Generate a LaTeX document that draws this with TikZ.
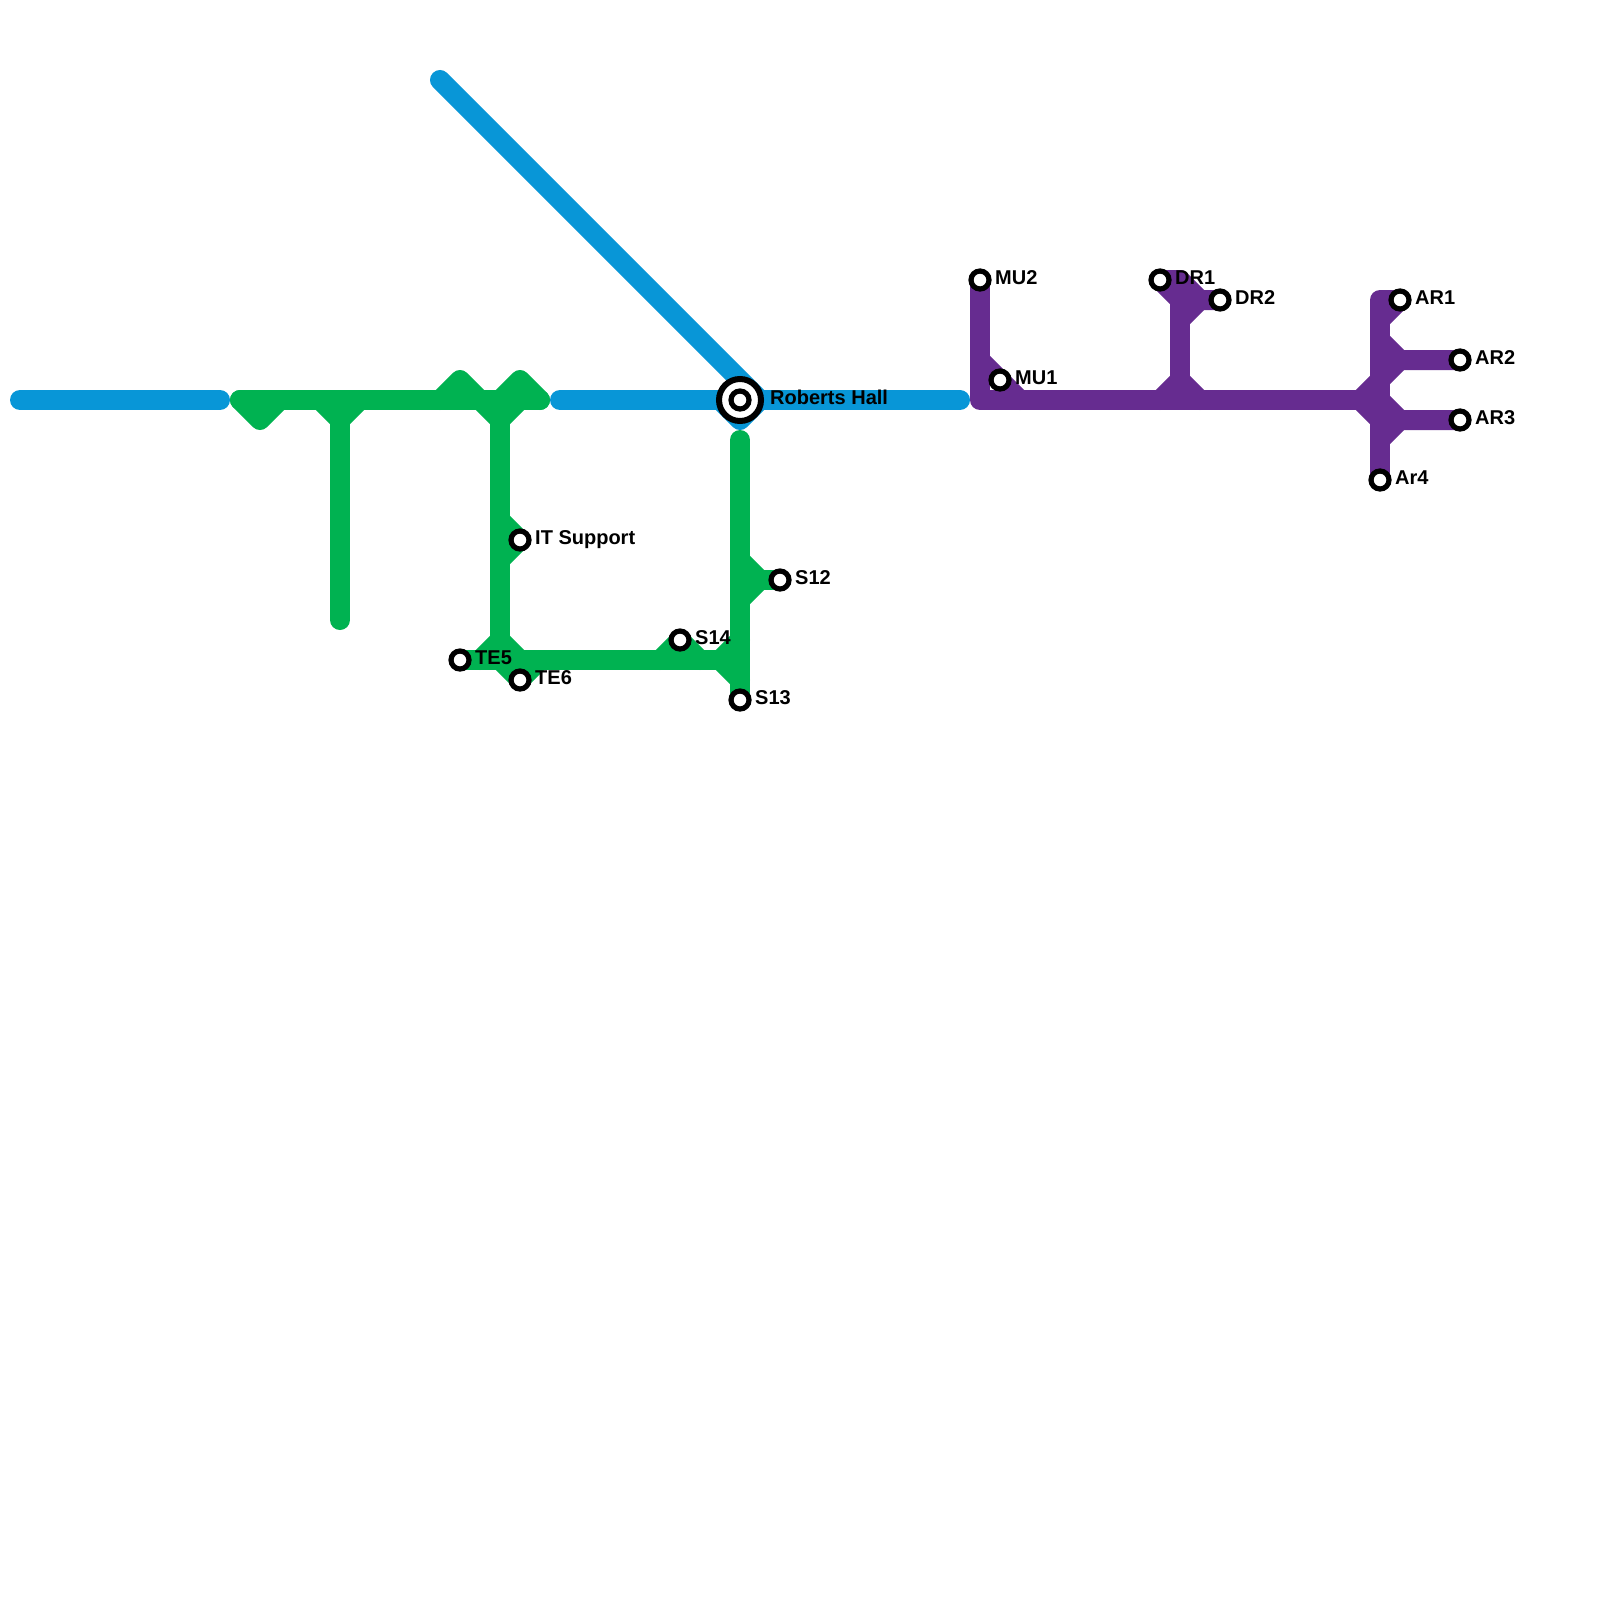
\documentclass[tikz,border=0pt]{standalone}
\usepackage{fontspec}
\setmainfont{Liberation Sans}
\usepackage{xcolor}
\definecolor{lineblue}{HTML}{0896D7}
\definecolor{linegreen}{HTML}{00B251}
\definecolor{linepurple}{HTML}{662C90}
\usetikzlibrary{positioning,backgrounds}

\begin{document}
\begin{tikzpicture}[
  x=20pt, y=-20pt,
  route/.style={line width=20pt, line cap=round, line join=round},
  blueroute/.style={route, draw=lineblue},
  greenroute/.style={route, draw=linegreen},
  purpleroute/.style={route, draw=linepurple},
  stn/.style={draw=black, fill=white, circle, line width=5.2pt, minimum size=18pt, inner sep=0pt, outer sep=0pt},
  bighub/.style={draw=black, fill=white, circle, line width=6pt, minimum size=42pt, inner sep=0pt, outer sep=0pt},
  stnlbl/.style={anchor=base west, inner sep=0pt, font=\bfseries\fontsize{20}{24}\selectfont, xshift=15pt, yshift=-4.7pt}
]
\useasboundingbox (0,0) rectangle (80,80);

% stations
\node[bighub] (hallring) at (37,20) {};
\node[stn] (hall) at (37,20) {};
\node[stn] (itsup) at (26,27) {};
\node[stn] (te5) at (23,33) {};
\node[stn] (te6) at (26,34) {};
\node[stn] (s14) at (34,32) {};
\node[stn] (s13) at (37,35) {};
\node[stn] (s12) at (39,29) {};
\node[stn] (mu2) at (49,14) {};
\node[stn] (mu1) at (50,19) {};
\node[stn] (dr1) at (58,14) {};
\node[stn] (dr2) at (61,15) {};
\node[stn] (ar1) at (70,15) {};
\node[stn] (ar2) at (73,18) {};
\node[stn] (ar3) at (73,21) {};
\node[stn] (ar4) at (69,24) {};

% labels
\node[stnlbl, xshift=15pt, yshift=0.7pt] (halltxt) at (hall.center) {Roberts Hall};
\node[stnlbl] (ittxt) at (itsup.center) {IT Support};
\node[stnlbl] (te5txt) at (te5.center) {TE5};
\node[stnlbl] (te6txt) at (te6.center) {TE6};
\node[stnlbl] (s14txt) at (s14.center) {S14};
\node[stnlbl] (s13txt) at (s13.center) {S13};
\node[stnlbl] (s12txt) at (s12.center) {S12};
\node[stnlbl] (mu2txt) at (mu2.center) {MU2};
\node[stnlbl] (mu1txt) at (mu1.center) {MU1};
\node[stnlbl] (dr1txt) at (dr1.center) {DR1};
\node[stnlbl] (dr2txt) at (dr2.center) {DR2};
\node[stnlbl] (ar1txt) at (ar1.center) {AR1};
\node[stnlbl] (ar2txt) at (ar2.center) {AR2};
\node[stnlbl] (ar3txt) at (ar3.center) {AR3};
\node[stnlbl] (ar4txt) at (ar4.center) {Ar4};

% blue line points
\coordinate (bw1) at (1,20);
\coordinate (bw2) at (11,20);
\coordinate (bm1) at (28,20);
\coordinate (bm2) at (48,20);
\coordinate (btop) at (22,4);
\coordinate (hallu) at (37,19);
\coordinate (hallr) at (38,20);
\coordinate (halld) at (37,21);
\coordinate (halll) at (36,20);

% green line points
\coordinate (gw) at (12,20);
\coordinate (ge) at (27,20);
\coordinate (g1a) at (13,21);
\coordinate (g1b) at (14,20);
\coordinate (g2a) at (16,20);
\coordinate (g2b) at (17,21);
\coordinate (g2c) at (18,20);
\coordinate (g2d) at (17,31);
\coordinate (g3a) at (22,20);
\coordinate (g3b) at (23,19);
\coordinate (g3c) at (24,20);
\coordinate (g4a) at (25,20);
\coordinate (g4b) at (26,19);
\coordinate (g5a) at (25,21);
\coordinate (g5b) at (26,20);
\coordinate (g5c) at (25,32);
\coordinate (it1) at (25,26);
\coordinate (it2) at (25,28);
\coordinate (gb1) at (24,33);
\coordinate (gb2) at (26,33);
\coordinate (gb3) at (25,33);
\coordinate (gb4) at (27,33);
\coordinate (gb5) at (33,33);
\coordinate (gb6) at (35,33);
\coordinate (gb7) at (36,33);
\coordinate (gr1) at (37,32);
\coordinate (gr2) at (37,34);
\coordinate (grt) at (37,22);
\coordinate (gr3) at (37,28);
\coordinate (gr4) at (38,29);
\coordinate (gr5) at (37,30);

% purple line points
\coordinate (pb) at (49,20);
\coordinate (pe) at (69,20);
\coordinate (pm1) at (49,18);
\coordinate (pm2) at (51,20);
\coordinate (pd1) at (59,14);
\coordinate (pd2) at (59,15);
\coordinate (pd3) at (60,15);
\coordinate (pd4) at (59,16);
\coordinate (pd5) at (58,20);
\coordinate (pd6) at (59,19);
\coordinate (pd7) at (60,20);
\coordinate (pa1) at (69,15);
\coordinate (pa2) at (69,16);
\coordinate (pa3) at (69,17);
\coordinate (pa4) at (70,18);
\coordinate (pa5) at (69,19);
\coordinate (pa6) at (70,21);
\coordinate (pa7) at (69,22);
\coordinate (pa8) at (68,20);
\coordinate (pa9) at (69,21);

\begin{scope}[on background layer]
\draw[blueroute] (bw1)--(bw2);
\draw[blueroute] (bm1)--(bm2);
\draw[blueroute] (btop)--(hallu)--(hallr)--(halld)--(halll);

\draw[greenroute] (gw)--(ge);
\draw[greenroute] (gw)--(g1a)--(g1b);
\draw[greenroute] (g2a)--(g2b)--(g2c);
\draw[greenroute] (g2b)--(g2d);
\draw[greenroute] (g3a)--(g3b)--(g3c);
\draw[greenroute] (g4a)--(g4b)--(ge);
\draw[greenroute] (g3c)--(g5a)--(g5b);
\draw[greenroute] (g5a)--(g5c);
\draw[greenroute] (it1)--(itsup.center)--(it2);
\draw[greenroute] (te5.center)--(gb7);
\draw[greenroute] (gb1)--(g5c)--(gb2);
\draw[greenroute] (gb3)--(te6.center)--(gb4);
\draw[greenroute] (gb5)--(s14.center)--(gb6);
\draw[greenroute] (gr1)--(gb7)--(gr2);
\draw[greenroute] (grt)--(s13.center);
\draw[greenroute] (gr3)--(gr4)--(gr5);
\draw[greenroute] (gr4)--(s12.center);

\draw[purpleroute] (mu2.center)--(pb)--(pe);
\draw[purpleroute] (pm1)--(mu1.center)--(pm2);
\draw[purpleroute] (dr1.center)--(pd1)--(pd6);
\draw[purpleroute] (dr1.center)--(pd2);
\draw[purpleroute] (pd1)--(pd3)--(dr2.center);
\draw[purpleroute] (pd3)--(pd4);
\draw[purpleroute] (pd5)--(pd6)--(pd7);
\draw[purpleroute] (ar1.center)--(pa1)--(ar4.center);
\draw[purpleroute] (ar1.center)--(pa2);
\draw[purpleroute] (pa3)--(pa4)--(ar2.center);
\draw[purpleroute] (pa4)--(pa5);
\draw[purpleroute] (pe)--(pa6)--(ar3.center);
\draw[purpleroute] (pa6)--(pa7);
\draw[purpleroute] (pa5)--(pa8)--(pa9);
\end{scope}
\end{tikzpicture}
\end{document}
